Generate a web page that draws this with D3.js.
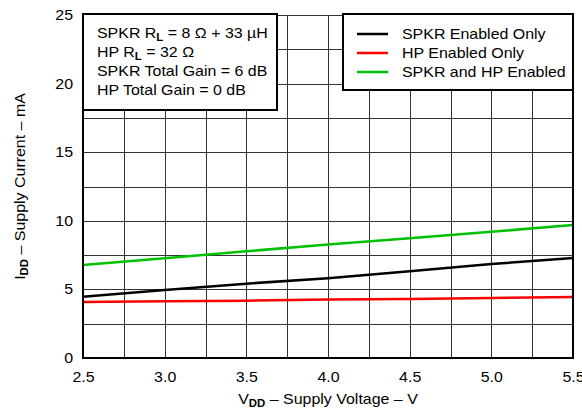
<!DOCTYPE html>
<html>
<head>
<meta charset="utf-8">
<script src="https://cdn.jsdelivr.net/npm/d3@7"></script>
<style>
  body { margin: 0; background: #fff; }
  text { font-family: "Liberation Sans", Arial, sans-serif; fill: #000; }
</style>
</head>
<body>
<svg id="chart" width="582" height="412"></svg>
<script>
// supply voltage (V)
var vdd = [2.5, 3.0, 3.5, 4.0, 4.5, 5.0, 5.5];
// supply current (mA)
var spkrOnly = [4.47, 4.96, 5.42, 5.82, 6.33, 6.85, 7.29];
var hpOnly = [4.08, 4.13, 4.18, 4.26, 4.3, 4.37, 4.45];
var bothOn = [6.78, 7.27, 7.78, 8.27, 8.72, 9.2, 9.7];

var seriesNames = ["SPKR Enabled Only", "HP Enabled Only", "SPKR and HP Enabled"];
var seriesColors = ["#000000", "#ff0000", "#00c000"];

var xTicks = [2.5, 3.0, 3.5, 4.0, 4.5, 5.0, 5.5];
var yTicks = [0, 5, 10, 15, 20, 25];

var svg = d3.select("#chart");
// plot area edges (don't use "top", it's window.top)
var pL = 83, pR = 573, pT = 15, pB = 358;
// the original image is stretched sideways a bit, text looks wider than tall
var SX = 1.14;

function stretch(sel) {
  sel.each(function() {
    var t = d3.select(this);
    var tx = +t.attr("x") || 0, ty = +t.attr("y") || 0;
    t.attr("transform", "translate(" + tx + "," + ty + ") scale(" + SX + ",1) translate(" + (-tx) + "," + (-ty) + ")");
  });
}

var x = d3.scaleLinear().domain([2.5, 5.5]).range([pL, pR]);
var y = d3.scaleLinear().domain([0, 25]).range([pB, pT]);

// grid: every 0.25 V and 2.5 mA
var grid = svg.append("g");
grid.selectAll(".vg")
  .data(d3.range(2.75, 5.5, 0.25))
  .enter().append("line")
  .attr("x1", d => Math.round(x(d)) + 0.5).attr("x2", d => Math.round(x(d)) + 0.5)
  .attr("y1", pT).attr("y2", pB)
  .attr("stroke", "#333").attr("stroke-width", 1);
grid.selectAll(".hg")
  .data(d3.range(2.5, 25.1, 2.5))
  .enter().append("line")
  .attr("x1", pL).attr("x2", pR)
  .attr("y1", d => Math.round(y(d)) + 0.5).attr("y2", d => Math.round(y(d)) + 0.5)
  .attr("stroke", "#333").attr("stroke-width", 1);

// data lines
var line = d3.line().x((d, i) => x(vdd[i])).y(d => y(d));
[spkrOnly, hpOnly, bothOn].forEach(function(s, i) {
  svg.append("path")
    .attr("d", line(s))
    .attr("fill", "none")
    .attr("stroke", seriesColors[i])
    .attr("stroke-width", 2.5);
});

// frame (left, bottom, right)
svg.append("path")
  .attr("d", "M" + pL + "," + pT + " L" + pL + "," + pB + " L" + pR + "," + pB + " L" + pR + "," + pT)
  .attr("fill", "none").attr("stroke", "#000").attr("stroke-width", 2);

// axes tick labels
var xAxis = d3.axisBottom(x).tickValues(xTicks).tickFormat(d3.format(".1f")).tickSize(0).tickPadding(14);
var gx = svg.append("g").attr("transform", "translate(0," + pB + ")").call(xAxis);
gx.select(".domain").remove();
gx.selectAll("text").attr("font-size", 14).attr("font-family", "Liberation Sans, Arial, sans-serif").call(stretch);

var yAxis = d3.axisLeft(y).tickValues(yTicks).tickSize(0).tickPadding(10);
var gy = svg.append("g").attr("transform", "translate(" + pL + ",0)").call(yAxis);
gy.select(".domain").remove();
gy.selectAll("text").attr("font-size", 14).attr("font-family", "Liberation Sans, Arial, sans-serif").call(stretch);

// axis titles
var xt = svg.append("text").attr("x", x(4.0)).attr("y", 404)
  .attr("text-anchor", "middle").attr("font-size", 14);
xt.append("tspan").text("V");
xt.append("tspan").attr("font-size", 10).attr("font-weight", "bold").attr("dy", 3).text("DD");
xt.append("tspan").attr("dy", -3).text(" \u2013 Supply Voltage \u2013 V");
xt.call(stretch);

var yt = svg.append("text").attr("transform", "translate(25," + y(12.5) + ") rotate(-90) scale(" + SX + ",1)")
  .attr("text-anchor", "middle").attr("font-size", 14);
yt.append("tspan").text("I");
yt.append("tspan").attr("font-size", 10).attr("font-weight", "bold").attr("dy", 3).text("DD");
yt.append("tspan").attr("dy", -3).text(" \u2013 Supply Current \u2013 mA");

// conditions box
svg.append("rect").attr("x", pL).attr("y", 14).attr("width", 194).attr("height", 96)
  .attr("fill", "#fff").attr("stroke", "#000").attr("stroke-width", 2);
var notes = [
  ["SPKR R", "L", " = 8 \u03A9 + 33 \u00B5H"],
  ["HP R", "L", " = 32 \u03A9"],
  ["SPKR Total Gain = 6 dB"],
  ["HP Total Gain = 0 dB"]
];
notes.forEach(function(n, i) {
  var t = svg.append("text").attr("x", 97).attr("y", 38 + i * 19).attr("font-size", 14);
  t.append("tspan").text(n[0]);
  if (n.length > 1) {
    t.append("tspan").attr("font-size", 10).attr("font-weight", "bold").attr("dy", 3).text(n[1]);
    t.append("tspan").attr("dy", -3).text(n[2]);
  }
  t.call(stretch);
});

// legend
svg.append("rect").attr("x", 343).attr("y", 14).attr("width", 230).attr("height", 76)
  .attr("fill", "#fff").attr("stroke", "#000").attr("stroke-width", 2);
seriesNames.forEach(function(name, i) {
  var cy = 34 + i * 19;
  svg.append("line").attr("x1", 357).attr("x2", 388).attr("y1", cy).attr("y2", cy)
    .attr("stroke", seriesColors[i]).attr("stroke-width", 2.5);
  svg.append("text").attr("x", 402).attr("y", cy + 5).attr("font-size", 14).text(name).call(stretch);
});
</script>
</body>
</html>
